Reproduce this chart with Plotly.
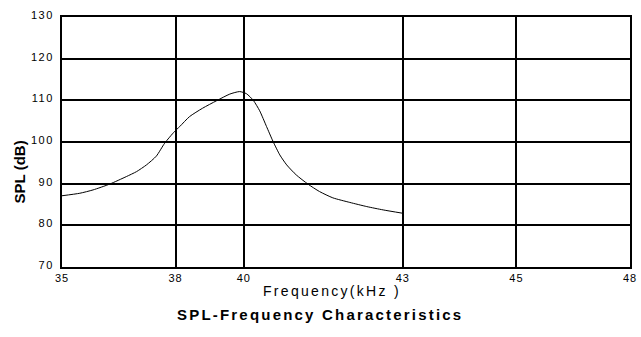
import numpy as np
import plotly.graph_objects as go

# Frequency tick labels (kHz) and SPL ticks (dB)
TICK_KHZ = [35, 38, 40, 43, 45, 48]
TICK_DB = [70, 80, 90, 100, 110, 120, 130]

# Measured response curve
freq_khz = [35.00, 35.47, 35.82, 36.26, 36.70, 36.97, 37.23, 37.49, 37.71, 37.97,
            38.12, 38.41, 38.79, 39.20, 39.59, 39.88, 40.05, 40.18, 40.30, 40.43,
            40.55, 40.68, 40.81, 40.99, 41.21, 41.43, 41.68, 42.00, 42.32, 42.63, 43.00]
spl_db = [87.1, 87.7, 88.5, 89.9, 91.7, 92.9, 94.5, 96.6, 99.7, 102.5,
          103.7, 106.1, 108.1, 109.9, 111.5, 112.1, 111.6, 110.0, 107.5, 103.7,
          100.2, 96.9, 94.5, 92.1, 89.9, 88.1, 86.6, 85.5, 84.5, 83.7, 82.9]

# The frequency axis is drawn on a warped scale: each tick sits at a fixed
# grid stop and frequencies are interpolated piecewise between them.
AXIS_STOPS = [0, 1, 1.6, 3, 4, 5]


def warp(f):
    return np.interp(f, TICK_KHZ, AXIS_STOPS)


def spaced(text, px):
    return f'<span style="letter-spacing:{px}px">{text}</span>'


FONT = "Liberation Sans, Arial, sans-serif"

fig = go.Figure()
fig.add_trace(go.Scatter(
    x=warp(freq_khz), y=spl_db, mode="lines",
    line=dict(color="black", width=1, shape="spline", smoothing=0.6),
    hoverinfo="skip", showlegend=False,
))

fig.update_layout(
    width=641, height=337,
    margin=dict(l=62, r=11, t=17, b=70),
    paper_bgcolor="white", plot_bgcolor="white",
    font=dict(family=FONT, color="black"),
    xaxis=dict(
        range=[AXIS_STOPS[0], AXIS_STOPS[-1]],
        tickmode="array", tickvals=AXIS_STOPS,
        ticktext=[spaced(str(t), 1) for t in TICK_KHZ],
        tickfont=dict(size=11, family=FONT),
        showgrid=True, gridcolor="black", gridwidth=2,
        showline=True, linecolor="black", linewidth=2, mirror=True,
        zeroline=False, ticks="", ticklabelstandoff=0, automargin=False,
    ),
    yaxis=dict(
        range=[TICK_DB[0], TICK_DB[-1]],
        tickmode="array", tickvals=TICK_DB,
        ticktext=[spaced(str(t), 1.5) for t in TICK_DB],
        tickfont=dict(size=11, family=FONT),
        showgrid=True, gridcolor="black", gridwidth=2,
        showline=True, linecolor="black", linewidth=2, mirror=True,
        zeroline=False, ticks="", ticklabelstandoff=4, ticklabelshift=-2,
        automargin=False,
    ),
    annotations=[
        dict(text="<b>SPL (dB)</b>", textangle=-90, showarrow=False,
             xref="paper", yref="paper", x=-0.075, y=0.38,
             xanchor="center", yanchor="middle",
             font=dict(size=15, family=FONT)),
        dict(text=spaced("Frequency(kHz )", 2.3), showarrow=False,
             xref="paper", yref="paper", x=0.475, y=-0.095,
             xanchor="center", yanchor="middle",
             font=dict(size=14, family=FONT)),
        dict(text="<b>" + spaced("SPL-Frequency Characteristics", 2.2) + "</b>",
             showarrow=False, xref="paper", yref="paper", x=0.455, y=-0.19,
             xanchor="center", yanchor="middle",
             font=dict(size=15, family=FONT)),
    ],
)

fig.write_html("out.html")
